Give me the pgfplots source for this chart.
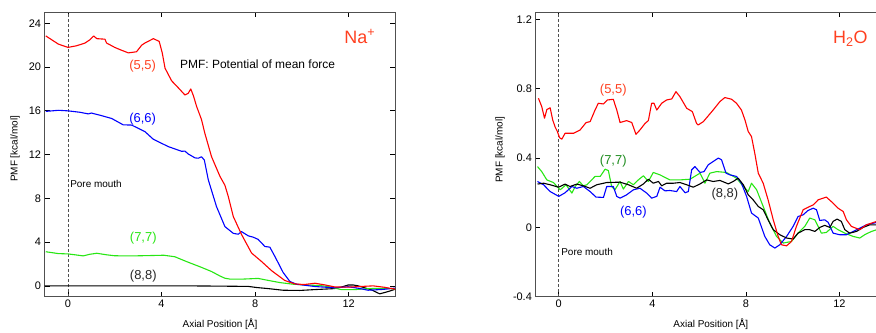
\documentclass[border=0pt]{standalone}
\usepackage{pgfplots}
\pgfplotsset{compat=1.18}
\usepackage{fontspec}
\setmainfont{Liberation Sans}

\definecolor{cred}{RGB}{255,0,0}
\definecolor{clab}{RGB}{255,64,32}
\definecolor{cblue}{RGB}{0,0,255}
\definecolor{cgreen}{RGB}{40,230,20}
\definecolor{cdgreen}{RGB}{30,140,30}
\definecolor{cframe}{RGB}{80,80,80}
\definecolor{cdark}{RGB}{40,40,40}

\pgfplotsset{
  mystyle/.style={
    scale only axis, width=350.8bp, height=284.4bp,
    anchor=south west,
    xmin=-1, xmax=14,
    xtick={0,4,8,12}, xticklabels={0,4,8,12},
    tick align=inside,
    major tick length=5bp,
    axis line style={cframe, line width=0.9bp},
    tick style={black, line width=0.7bp},
    ticklabel style={font=\fontsize{11}{13}\selectfont},
    /pgf/number format/assume math mode=true,
    xlabel={Axial Position [Å]},
    ylabel={PMF [kcal/mol]},
    label style={font=\fontsize{10}{12}\selectfont},
    xlabel style={at={(axis description cs:0.5,0)}, anchor=center, yshift=-27.5bp},
    every axis plot/.append style={line width=1.1bp, line join=round},
  }
}

\begin{document}
\begin{tikzpicture}
\useasboundingbox (0,0) rectangle (876bp,333bp);

% ---------------- Left panel: Na+ ----------------
\begin{axis}[mystyle, at={(44.6bp,36.2bp)},
  ymin=-1, ymax=25,
  ytick={0,4,8,12,16,20,24}, yticklabels={0,4,8,12,16,20,24},
  ylabel style={at={(axis description cs:-0.084,0.52)}, anchor=center},
]
\addplot[cframe, dashed, line width=0.9bp, dash pattern=on 3bp off 2bp] coordinates {(0,-1) (0,25)};
% (8,8)
\addplot[black] coordinates {
(-1,0) (1,0) (3,0) (5,0) (6.28,-0.02) (7.71,-0.05) (8.06,-0.15) (8.56,-0.25) (9.2,-0.4) (9.91,-0.42) (10.56,-0.34) (11.41,-0.25) (11.77,-0.06) (11.98,0.08) (12.2,0.08) (12.41,0) (12.98,-0.37) (13.33,-0.73) (13.69,-0.52) (14,-0.3)};
% (7,7)
\addplot[cgreen] coordinates {
(-0.95,3.12) (-0.41,2.95) (0,2.92) (0.3,2.84) (0.65,2.74) (0.94,2.89) (1.23,2.98) (1.65,2.84) (2.0,2.75) (2.79,2.74) (3.5,2.77) (4.1,2.8) (4.57,2.66) (5.07,2.22) (5.43,1.92) (5.64,1.75) (6.14,1.31) (6.5,0.9) (6.71,0.7) (6.92,0.62) (7.49,0.62) (8.13,0.68) (8.56,0.5) (9.06,0.3) (9.63,0.15) (10.2,0.08) (10.77,0.03) (11.12,-0.06) (11.4,-0.2) (11.7,-0.35) (12.27,-0.34) (12.9,-0.25) (13.48,-0.22) (14,-0.28)};
% (6,6)
\addplot[cblue] coordinates {
(-0.95,15.95) (-0.41,16.05) (0,16.0) (0.51,15.87) (0.87,15.72) (1.0,15.8) (1.37,15.6) (1.87,15.3) (2.36,14.72) (2.72,14.7) (3.29,14.1) (3.65,13.4) (4.29,12.73) (4.86,12.3) (5.0,12.32) (5.14,12.06) (5.43,11.7) (5.57,11.67) (5.71,11.8) (5.83,11.5) (6.0,9.69) (6.35,7.25) (6.71,5.42) (7.07,4.8) (7.28,4.72) (7.42,4.96) (7.71,4.57) (7.92,4.45) (8.13,4.25) (8.42,3.6) (8.63,3.54) (8.85,2.68) (9.2,1.22) (9.49,0.4) (9.77,0.15) (10.56,-0.06) (11.41,-0.18) (11.98,-0.08) (12.48,-0.24) (12.83,-0.4) (13.5,-0.32) (14,-0.2)};
% (5,5)
\addplot[cred] coordinates {
(-0.95,22.85) (-0.41,22.1) (0,21.8) (0.37,21.95) (0.73,22.2) (0.94,22.5) (1.1,22.85) (1.23,22.6) (1.58,22.55) (1.65,22.2) (2.0,21.8) (2.22,21.6) (2.58,21.3) (2.93,21.4) (3.15,22.0) (3.29,22.2) (3.65,22.6) (3.9,22.35) (4.03,21.3) (4.15,19.9) (4.43,18.75) (4.72,18.1) (5.0,17.45) (5.14,17.6) (5.25,18.0) (5.36,17.4) (5.5,16.4) (5.71,15.2) (5.85,13.96) (6.14,11.8) (6.5,10.0) (6.71,9.2) (6.85,8.2) (7.07,6.33) (7.42,4.7) (7.85,3.0) (8.28,2.22) (8.7,1.4) (9.27,0.49) (9.7,0.18) (10.1,0.12) (10.56,0.24) (10.98,0.09) (11.41,-0.1) (11.98,-0.12) (12.48,-0.06) (13.05,0) (13.5,-0.12) (14,-0.3)};

\node[clab, font=\fontsize{13}{15}\selectfont] at (axis cs:3.19,20.1) {(5,5)};
\node[cblue, font=\fontsize{13}{15}\selectfont] at (axis cs:3.19,15.26) {(6,6)};
\node[cgreen, font=\fontsize{13}{15}\selectfont] at (axis cs:3.22,4.36) {(7,7)};
\node[cdark, font=\fontsize{13}{15}\selectfont] at (axis cs:3.22,0.91) {(8,8)};
\node[black, anchor=west, inner sep=0pt, font=\fontsize{12}{14}\selectfont] at (axis cs:4.79,20.25) {PMF: Potential of mean force};
\node[clab, font=\fontsize{18}{20}\selectfont] at (axis cs:12.48,22.8) {Na\textsuperscript{+}};
\node[black, anchor=west, inner sep=0pt, font=\fontsize{10}{12}\selectfont] at (axis cs:0.09,9.29) {Pore mouth};
\end{axis}

% ---------------- Right panel: H2O ----------------
\begin{axis}[mystyle, at={(535.4bp,36.2bp)},
  ymin=-0.4, ymax=1.24,
  ytick={-0.4,0,0.4,0.8,1.2}, yticklabels={-0.4,0,0.4,0.8,1.2},
  ylabel style={at={(axis description cs:-0.101,0.517)}, anchor=center},
]
\addplot[cframe, dashed, line width=0.9bp, dash pattern=on 3bp off 2bp] coordinates {(0,-0.4) (0,1.24)};
% (7,7)
\addplot[cgreen] coordinates {
(-0.91,0.351) (-0.73,0.322) (-0.51,0.274) (-0.23,0.259) (0.06,0.217) (0.31,0.246) (0.56,0.198) (0.7,0.236) (0.88,0.265) (1.05,0.24) (1.2,0.246) (1.34,0.265) (1.55,0.294) (1.77,0.294) (1.98,0.336) (2.12,0.328) (2.26,0.236) (2.4,0.217) (2.62,0.265) (2.76,0.221) (2.98,0.265) (3.19,0.246) (3.4,0.274) (3.62,0.298) (3.83,0.265) (4.04,0.317) (4.33,0.303) (4.75,0.274) (5.18,0.274) (5.61,0.278) (6.04,0.313) (6.25,0.255) (6.46,0.313) (6.75,0.322) (7.17,0.317) (7.6,0.284) (7.89,0.236) (8.1,0.207) (8.24,0.255) (8.46,0.217) (8.74,0.121) (9.02,0.025) (9.31,-0.052) (9.6,-0.09) (9.95,-0.081) (10.23,-0.033) (10.52,0.006) (10.73,0.054) (10.95,0.044) (11.23,-0.033) (11.44,-0.029) (11.73,0.006) (11.94,-0.013) (12.23,-0.033) (12.59,-0.052) (12.87,-0.061) (13.08,-0.042) (13.37,-0.023) (13.6,-0.013) (14,-0.02)};
% (6,6)
\addplot[cblue] coordinates {
(-0.91,0.265) (-0.65,0.246) (-0.37,0.207) (0,0.179) (0.27,0.2) (0.56,0.236) (0.77,0.226) (1.05,0.236) (1.34,0.207) (1.59,0.175) (1.91,0.173) (2.05,0.236) (2.33,0.236) (2.48,0.179) (2.62,0.169) (2.9,0.188) (3.19,0.217) (3.47,0.226) (3.76,0.198) (3.97,0.169) (4.19,0.179) (4.33,0.232) (4.54,0.211) (4.75,0.213) (5.04,0.207) (5.18,0.236) (5.4,0.2) (5.54,0.207) (5.68,0.332) (5.82,0.351) (6.04,0.317) (6.21,0.322) (6.39,0.361) (6.6,0.38) (6.82,0.4) (6.96,0.39) (7.15,0.313) (7.32,0.303) (7.6,0.294) (7.81,0.255) (8.03,0.179) (8.24,0.083) (8.53,0.054) (8.81,-0.052) (9.02,-0.1) (9.24,-0.119) (9.45,-0.1) (9.74,-0.052) (10.02,0.006) (10.23,0.063) (10.45,0.073) (10.66,0.098) (10.88,0.111) (11.02,0.102) (11.16,0.04) (11.37,0.044) (11.52,0.029) (11.73,-0.033) (12.01,-0.042) (12.3,-0.042) (12.59,-0.023) (12.87,-0.004) (13.15,0.015) (13.6,0.029) (14,0.03)};
% (8,8)
\addplot[black] coordinates {
(-0.91,0.25) (-0.65,0.255) (-0.37,0.246) (-0.01,0.232) (0.27,0.25) (0.48,0.236) (0.77,0.25) (1.05,0.24) (1.34,0.226) (1.62,0.246) (2.05,0.259) (2.62,0.261) (2.98,0.246) (3.33,0.226) (3.62,0.251) (3.83,0.278) (4.04,0.255) (4.26,0.265) (4.4,0.24) (4.61,0.255) (4.9,0.255) (5.18,0.259) (5.47,0.246) (5.75,0.232) (6.04,0.251) (6.32,0.274) (6.6,0.265) (6.89,0.271) (7.25,0.251) (7.46,0.265) (7.67,0.284) (7.89,0.246) (8.1,0.188) (8.31,0.159) (8.53,0.121) (8.74,0.102) (8.95,0.044) (9.17,-0.013) (9.45,-0.042) (9.74,-0.061) (10.02,-0.067) (10.23,-0.033) (10.52,-0.013) (10.73,-0.013) (10.95,-0.023) (11.16,0.0) (11.37,0.012) (11.59,0.0) (11.73,0.035) (11.9,0.048) (12.08,0.035) (12.23,-0.013) (12.44,-0.033) (12.73,-0.023) (13.01,0.0) (13.3,0.015) (13.6,0.015) (14,0.02)};
% (5,5)
\addplot[cred] coordinates {
(-0.87,0.745) (-0.73,0.697) (-0.61,0.63) (-0.51,0.68) (-0.37,0.69) (-0.26,0.62) (-0.16,0.58) (-0.06,0.553) (0.03,0.518) (0.13,0.509) (0.27,0.543) (0.63,0.543) (0.91,0.562) (1.17,0.605) (1.34,0.61) (1.55,0.677) (1.69,0.716) (1.91,0.712) (2.08,0.735) (2.33,0.739) (2.48,0.677) (2.62,0.605) (2.9,0.616) (3.12,0.605) (3.3,0.537) (3.47,0.562) (3.69,0.6) (3.83,0.616) (3.97,0.716) (4.07,0.716) (4.19,0.677) (4.4,0.716) (4.61,0.735) (4.83,0.741) (5.01,0.783) (5.18,0.754) (5.47,0.687) (5.71,0.668) (5.89,0.6) (5.96,0.591) (6.18,0.61) (6.6,0.677) (6.89,0.726) (7.1,0.749) (7.39,0.739) (7.6,0.716) (7.81,0.677) (7.96,0.62) (8.1,0.553) (8.24,0.524) (8.38,0.428) (8.53,0.313) (8.74,0.255) (8.95,0.159) (9.17,0.044) (9.38,-0.052) (9.52,-0.1) (9.74,-0.106) (9.95,-0.081) (10.16,0.006) (10.45,0.102) (10.73,0.121) (10.88,0.13) (11.09,0.159) (11.44,0.175) (11.73,0.14) (11.94,0.111) (12.16,0.092) (12.3,0.044) (12.51,0.006) (12.87,-0.013) (13.15,0.015) (13.37,0.025) (13.6,0.035) (14,0.04)};

\node[clab, font=\fontsize{13}{15}\selectfont] at (axis cs:2.33,0.793) {(5,5)};
\node[cdgreen, font=\fontsize{13}{15}\selectfont] at (axis cs:2.33,0.38) {(7,7)};
\node[cblue, font=\fontsize{13}{15}\selectfont] at (axis cs:3.19,0.088) {(6,6)};
\node[cdark, font=\fontsize{13}{15}\selectfont] at (axis cs:7.1,0.192) {(8,8)};
\node[clab, font=\fontsize{18}{20}\selectfont] at (axis cs:12.47,1.09) {H\textsubscript{2}O};
\node[black, anchor=west, inner sep=0pt, font=\fontsize{10}{12}\selectfont] at (axis cs:0.1,-0.142) {Pore mouth};
\end{axis}
\end{tikzpicture}
\end{document}
